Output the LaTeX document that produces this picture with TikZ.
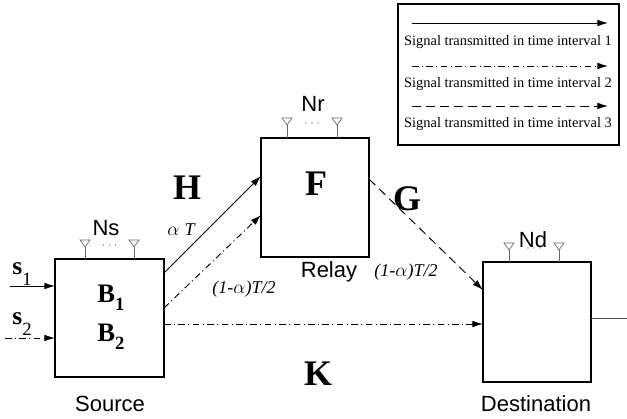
\documentclass[tikz,border=0pt]{standalone}
\usepackage{fontspec}
\setmainfont{Liberation Serif}
\setsansfont{Liberation Sans}
\usetikzlibrary{arrows.meta}
\newcommand\fs[1]{\fontsize{#1}{#1}\selectfont}
\tikzset{
  blk/.style={draw, line width=1.1pt, inner sep=0pt, outer sep=0pt},
  conn/.style={line width=0.7pt, -{Latex[length=8pt,width=5pt]}},
  dashdot/.style={dash pattern=on 5pt off 2.5pt on 0.8pt off 2.5pt},
  dashlong/.style={dash pattern=on 6.5pt off 4pt},
  lbl/.style={font=\sffamily\fs{16.5}, inner sep=0pt},
  big/.style={font=\bfseries\fs{27}, inner sep=0pt},
  ital/.style={font=\itshape\fs{13.5}, inner sep=0pt},
  leg/.style={font=\fs{10.8}, inner sep=0pt},
  ant/.style={line width=0.5pt, draw=black!60},
}
\begin{document}
\begin{tikzpicture}[x=0.75pt,y=-0.75pt]
\useasboundingbox (0,0) rectangle (627,418);
% boxes
\node[blk, minimum width={109*0.75pt}, minimum height={118*0.75pt}] (src) at (109.5,318) {};
\node[blk, minimum width={108*0.75pt}, minimum height={119*0.75pt}] (rel) at (315,197.5) {};
\node[blk, minimum width={108*0.75pt}, minimum height={120*0.75pt}] (dst) at (537,322) {};
% box labels
\node[lbl] (srcl) at (110,404) {Source};
\node[lbl] (rell) at (329,272) {Relay};
\node[lbl] (dstl) at (536,404) {Destination};
\node[lbl] (ns) at (106,228) {Ns};
\node[lbl] (nr) at (313,104) {Nr};
\node[lbl] (nd) at (533,240) {Nd};
% antennas
\foreach \x/\t/\b in {85/240/259, 134/240/259, 287/118/138, 337/118/138, 509/243/262, 559/243/262}{
  \draw[ant] (\x-5,\t) -- (\x+5,\t) -- (\x,\t+7) -- cycle;
  \draw[ant] (\x,\t+7) -- (\x,\b);
}
\foreach \x/\y in {109.5/245, 312/123, 534/248}{
  \foreach \d in {-6,0,6} \fill[black!75] (\x+\d,\y) circle (0.7);
}
% inner labels
\node[font=\bfseries\fs{20}, inner sep=0pt] (b1) at (111,298) {B\raisebox{-0.3em}{\fs{14}1}};
\node[font=\bfseries\fs{20}, inner sep=0pt] (b2) at (111,337) {B\raisebox{-0.3em}{\fs{14}2}};
\node[big] (F) at (316,184) {F};
\node[big] (H) at (187,188) {H};
\node[big] (G) at (407,199) {G};
\node[big] (K) at (318,374) {K};
\node[ital] (aT) at (181,230) {$\alpha$\;T};
\node[ital] (t1) at (244,289) {(1-$\alpha$)T/2};
\node[ital] (t2) at (406,272) {(1-$\alpha$)T/2};
% inputs
\coordinate (in1) at (10,286);
\coordinate (in2) at (5,338);
\draw[conn] (in1) -- (in1 -| src.west);
\draw[conn, dashdot] (in2) -- (in2 -| src.west);
\node[inner sep=0pt] (s1) at (22,274) {\bfseries\fs{19}s\raisebox{-0.4em}{\mdseries\fs{14}1}};
\node[inner sep=0pt] (s2) at (22,324) {\bfseries\fs{19}s\raisebox{-0.4em}{\mdseries\fs{14}2}};
% links
\coordinate (h0) at (164,273); \coordinate (h1) at (261,176);
\draw[conn] (h0 -| src.east) -- (h1 -| rel.west);
\coordinate (d0) at (164,308); \coordinate (d1) at (261,215);
\draw[conn, dashdot] (d0 -| src.east) -- (d1 -| rel.west);
\coordinate (k0) at (164,324);
\draw[conn, dashdot] (k0 -| src.east) -- (k0 -| dst.west);
\coordinate (g0) at (369,179); \coordinate (g1) at (483,290);
\draw[conn, dashlong] (g0 -| rel.east) -- (g1 -| dst.west);
% output
\coordinate (out) at (627,318);
\draw[line width=0.6pt, black!70] (out -| dst.east) -- (out);
% legend
\node[draw, line width=0.8pt, minimum width={221*0.75pt}, minimum height={141*0.75pt}, inner sep=0pt] (legbox) at (508.5,74.5) {};
\coordinate (la1) at (412,23); \coordinate (lb1) at (608,23);
\coordinate (la2) at (412,66); \coordinate (lb2) at (608,66);
\coordinate (la3) at (412,106); \coordinate (lb3) at (608,106);
\draw[conn] (la1) -- (lb1);
\draw[conn, dashdot] (la2) -- (lb2);
\draw[conn, dashlong] (la3) -- (lb3);
\node[leg] (lt1) at (508,42) {Signal transmitted in time interval 1};
\node[leg] (lt2) at (508,84) {Signal transmitted in time interval 2};
\node[leg] (lt3) at (508,124) {Signal transmitted in time interval 3};
\end{tikzpicture}
\end{document}
